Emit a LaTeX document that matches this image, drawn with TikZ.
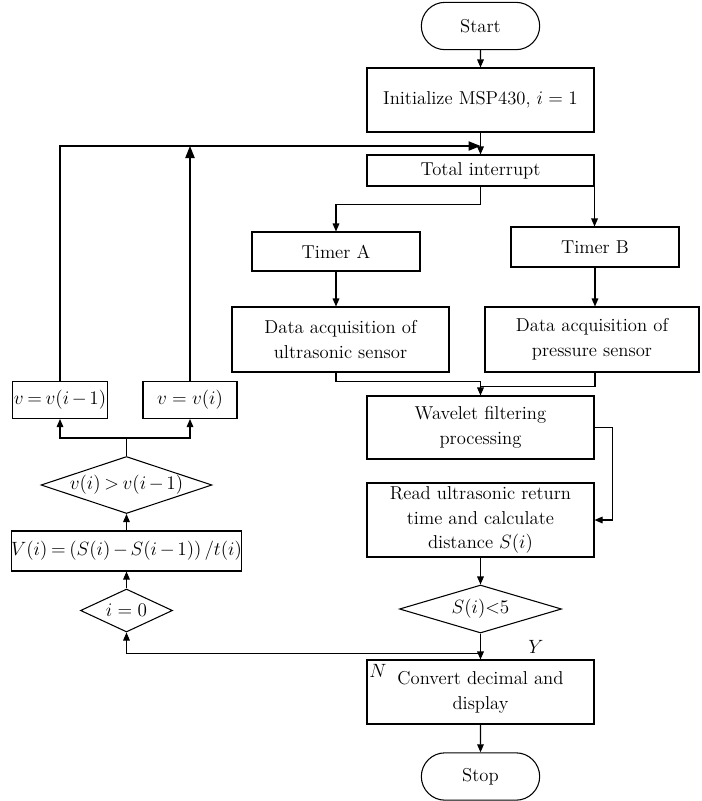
\documentclass[tikz,border=0pt]{standalone}
\usetikzlibrary{shapes.geometric,shapes.misc,arrows.meta}

\tikzset{
    proc/.style={draw, rectangle, align=center, inner sep=1pt, minimum width=170.25pt},
    term/.style={draw, rounded rectangle, inner sep=1pt, minimum width=90.75pt, minimum height=35.5pt},
    decide/.style={draw, diamond, aspect=3, inner sep=0pt},
    flow/.style={-{Triangle[length=6pt,width=5pt]}},
    bigflow/.style={-{Triangle[length=9pt,width=7pt]}},
    narrow/.style={execute at begin node={\medmuskip=2.5mu\thickmuskip=3.5mu}}
}

\begin{document}
\begin{tikzpicture}[x=0.75pt, y=-0.75pt, line width=0.8pt,
        every node/.style={font=\fontsize{14}{18.5}\selectfont}]
            \useasboundingbox (0, 0) rectangle (701, 801);

            \node[term] (start) at (480.5, 26) {Start};
            \node[proc, minimum height=48pt] (init) at (480.5, 100) {Initialize MSP430, \(i = 1\)};
            \node[proc, minimum height=23.25pt] (total) at (480.5, 170.5) {Total interrupt};
            \node[proc, minimum width=126pt, minimum height=29.25pt] (timerA) at (336, 251.5) {Timer A};
            \node[proc, minimum width=126pt, minimum height=30pt] (timerB) at (595, 247) {Timer B};
            \node[proc, minimum width=162.75pt, minimum height=48.75pt] (dataA) at (340.5, 339.5) {Data acquisition of\\ultrasonic sensor};
            \node[proc, minimum width=160.5pt, minimum height=48.75pt] (dataB) at (592, 339.5) {Data acquisition of\\pressure sensor};
            \node[proc, minimum height=47.25pt] (wave) at (480.5, 427.5) {Wavelet filtering\\processing};
            \node[proc, minimum height=55.5pt] (read) at (480.5, 520) {Read ultrasonic return\\time and calculate\\distance \(S(i)\)};
            \node[decide, minimum width=121.5pt, minimum height=36pt] (sless) at (480.5, 609) {\(S(i){<}5\)};
            \node[proc, minimum height=48pt] (conv) at (480.5, 692) {Convert decimal and\\display};
            \node[term] (stop) at (480.5, 776.5) {Stop};

            \node[decide, minimum width=69pt, minimum height=32.25pt] (izero) at (126.5, 610.5) {\(i = 0\)};
            \node[proc, narrow, minimum width=171.75pt, minimum height=30pt, inner xsep=0pt] (vcalc) at (126.5, 551) {\(V(i) = (S(i) - S(i - 1))\,/t(i)\)};
            \node[decide, narrow, minimum width=120.75pt, minimum height=40.5pt] (vcomp) at (126.5, 485) {\(v(i) > v(i - 1)\)};
            \node[proc, narrow, minimum width=70.5pt, minimum height=27.75pt] (vprev) at (60, 400) {\(v = v(i - 1)\)};
            \node[proc, minimum width=70.5pt, minimum height=27.75pt] (vcur) at (190, 400) {\(v = v(i)\)};

            \coordinate (merge) at (480.5, 146);

            \node (ylabel) at (536, 647) {\(Y\)};
            \node (nlabel) at (378, 671) {\(N\)};

            \draw[flow] (start) -- (init);
            \draw[flow] (init) -- (total);
            \draw[flow] (total.south) -- ++(0, 18) -| (timerA.north);
            \draw[flow] (total.south east) -- (total.south east |- timerB.north);
            \draw[flow] (timerA) -- (timerA.south |- dataA.north);
            \draw[flow] (timerB.south) -- (timerB.south |- dataB.north);
            \draw[flow] (timerA.south |- dataA.south) -- ++(0, 9) -| (wave.north);
            \draw (timerB.south |- dataB.south) -- ++(0, 14) -| (wave.north);
            \draw[flow] (wave.east) -- ++(18, 0) |- (read.east);
            \draw[flow] (read) -- (sless);
            \draw[flow] (sless) -- (conv);
            \draw[flow] (sless.south) -- ++(0, 20) -| (izero.south);
            \draw[flow] (conv) -- (stop);

            \draw[flow] (izero) -- (vcalc);
            \draw[flow] (vcalc) -- (vcomp);
            \draw[flow] (vcomp.north) -- ++(0, -18) -| (vprev.south);
            \draw[flow] (vcomp.north) -- ++(0, -18) -| (vcur.south);
            \draw[bigflow] (vprev.north) |- (merge);
            \draw[bigflow] (vcur.north) -- (vcur.north |- merge);
        \end{tikzpicture}
\end{document}
